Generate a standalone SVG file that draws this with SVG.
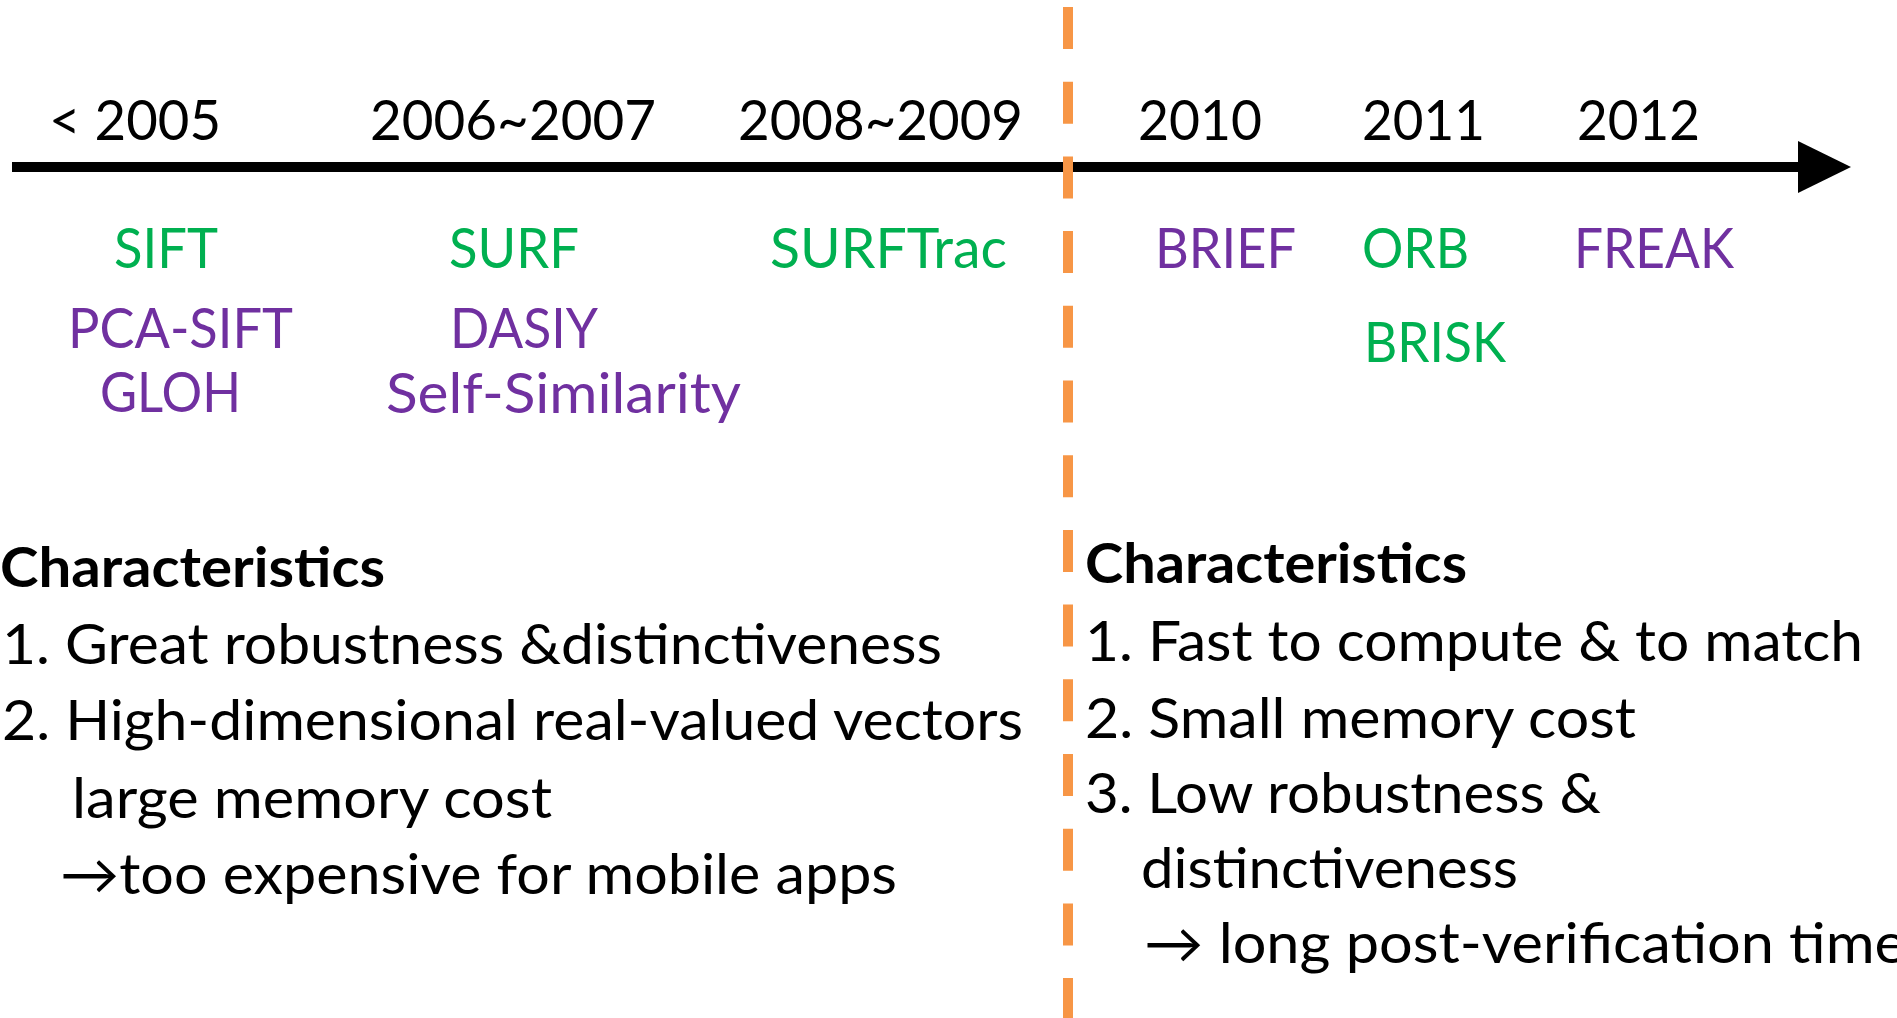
<svg xmlns="http://www.w3.org/2000/svg" width="1897" height="1018" viewBox="0 0 1897 1018">
<style>
text{font-family:Lato,"Noto Sans","DejaVu Sans",sans-serif;font-size:56px;}
.k{fill:#000;}
.g{fill:#00B050;}
.p{fill:#7030A0;}
.b{font-weight:bold;}
.axis{stroke:#000;stroke-width:10;fill:none;}
.div{stroke:#F79646;stroke-width:10;stroke-dasharray:42 32.7;fill:none;}
</style>
<rect width="1897" height="1018" fill="#fff"/>
<g id="connectors">
<line class="axis" x1="12" y1="167" x2="1800" y2="167"/>
<polygon points="1798,141 1851,167 1798,193" fill="#000"/>
<line class="div" x1="1068" y1="7" x2="1068" y2="1018"/>
</g>
<g id="year-2005"><text class="k" x="49" y="140" textLength="172" lengthAdjust="spacingAndGlyphs">&lt; 2005</text></g>
<g id="year-2006"><text class="k" x="370" y="140" textLength="286" lengthAdjust="spacingAndGlyphs">2006~2007</text></g>
<g id="year-2008"><text class="k" x="738" y="140" textLength="285" lengthAdjust="spacingAndGlyphs">2008~2009</text></g>
<g id="year-2010"><text class="k" x="1138" y="140" textLength="124" lengthAdjust="spacingAndGlyphs">2010</text></g>
<g id="year-2011"><text class="k" x="1362" y="140" textLength="123" lengthAdjust="spacingAndGlyphs">2011</text></g>
<g id="year-2012"><text class="k" x="1577" y="140" textLength="123" lengthAdjust="spacingAndGlyphs">2012</text></g>
<g id="sift"><text class="g" x="114" y="268" textLength="104" lengthAdjust="spacingAndGlyphs">SIFT</text></g>
<g id="surf"><text class="g" x="449" y="268" textLength="130" lengthAdjust="spacingAndGlyphs">SURF</text></g>
<g id="surftrac"><text class="g" x="770" y="268" textLength="237" lengthAdjust="spacingAndGlyphs">SURFTrac</text></g>
<g id="brief"><text class="p" x="1155" y="268" textLength="141" lengthAdjust="spacingAndGlyphs">BRIEF</text></g>
<g id="orb"><text class="g" x="1362" y="268" textLength="107" lengthAdjust="spacingAndGlyphs">ORB</text></g>
<g id="freak"><text class="p" x="1574" y="268" textLength="160" lengthAdjust="spacingAndGlyphs">FREAK</text></g>
<g id="pca-sift"><text class="p" x="68" y="348" textLength="225" lengthAdjust="spacingAndGlyphs">PCA-SIFT</text></g>
<g id="dasiy"><text class="p" x="450" y="348" textLength="148" lengthAdjust="spacingAndGlyphs">DASIY</text></g>
<g id="brisk"><text class="g" x="1364" y="362" textLength="142" lengthAdjust="spacingAndGlyphs">BRISK</text></g>
<g id="gloh"><text class="p" x="100" y="412" textLength="141" lengthAdjust="spacingAndGlyphs">GLOH</text></g>
<g id="self-similarity"><text class="p" x="386" y="413" textLength="355" lengthAdjust="spacingAndGlyphs">Self-Similarity</text></g>
<g id="left-characteristics">
<text class="k b" x="0" y="587" textLength="385" lengthAdjust="spacingAndGlyphs">Characteristics</text>
<text class="k" x="2" y="664" textLength="940" lengthAdjust="spacingAndGlyphs">1. Great robustness &amp;distinctiveness</text>
<text class="k" x="2" y="740" textLength="1021" lengthAdjust="spacingAndGlyphs">2. High-dimensional real-valued vectors</text>
<text class="k" x="72" y="818" textLength="480" lengthAdjust="spacingAndGlyphs">large memory cost</text>
<text class="k" x="60" y="894" textLength="837" lengthAdjust="spacingAndGlyphs">→too expensive for mobile apps</text>
</g>
<g id="right-characteristics">
<text class="k b" x="1085" y="583" textLength="382" lengthAdjust="spacingAndGlyphs">Characteristics</text>
<text class="k" x="1085" y="661" textLength="778" lengthAdjust="spacingAndGlyphs">1. Fast to compute &amp; to match</text>
<text class="k" x="1085" y="738" textLength="551" lengthAdjust="spacingAndGlyphs">2. Small memory cost</text>
<text class="k" x="1085" y="813" textLength="516" lengthAdjust="spacingAndGlyphs">3. Low robustness &amp;</text>
<text class="k" x="1141" y="888" textLength="377" lengthAdjust="spacingAndGlyphs">distinctiveness</text>
<text class="k" x="1144" y="963" textLength="762" lengthAdjust="spacingAndGlyphs">→ long post-verification time</text>
</g>
</svg>
